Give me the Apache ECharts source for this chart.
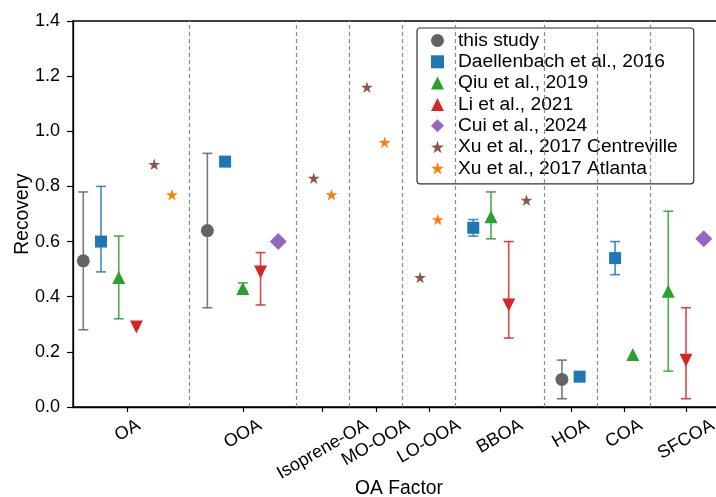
<!DOCTYPE html>
<html>
<head>
<meta charset="utf-8">
<script src="https://cdn.jsdelivr.net/npm/echarts@6/dist/echarts.min.js"></script>
<style>
html, body { margin: 0; padding: 0; background: #fff; }
#main { width: 716px; height: 497px; }
</style>
</head>
<body>
<div id="main"></div>
<script>
var factors = ['OA', 'OOA', 'Isoprene-OA', 'MO-OOA', 'LO-OOA', 'BBOA', 'HOA', 'COA', 'SFCOA'];
var studies = ['this study', 'Daellenbach et al., 2016', 'Qiu et al., 2019', 'Li et al., 2021',
               'Cui et al., 2024', 'Xu et al., 2017 Centreville', 'Xu et al., 2017 Atlanta'];

// recovery per factor (null = not reported)
var thisStudy     = [0.53, 0.64, null, null, null, null, 0.10, null, null];
var daellenbach   = [0.60, 0.89, null, null, null, 0.65, 0.11, 0.54, null];
var qiu           = [0.47, 0.43, null, null, null, 0.69, null, 0.19, 0.42];
var li            = [0.29, 0.49, null, null, null, 0.37, null, null, 0.17];
var cui           = [null, 0.60, null, null, null, null, null, null, 0.61];
var xuCentreville = [0.88, null, 0.83, 1.16, 0.47, 0.75, null, null, null];
var xuAtlanta     = [0.77, null, 0.77, 0.96, 0.68, null, null, null, null];

// error ranges [low, high]
var thisStudyErr   = [[0.28, 0.78], [0.36, 0.92], null, null, null, null, [0.03, 0.17], null, null];
var daellenbachErr = [[0.49, 0.80], null, null, null, null, [0.62, 0.68], null, [0.48, 0.60], null];
var qiuErr         = [[0.32, 0.62], [0.42, 0.45], null, null, null, [0.61, 0.78], null, null, [0.13, 0.71]];
var liErr          = [null, [0.37, 0.56], null, null, null, [0.25, 0.60], null, null, [0.03, 0.36]];

var values = [thisStudy, daellenbach, qiu, li, cui, xuCentreville, xuAtlanta];
var errs = [thisStudyErr, daellenbachErr, qiuErr, liErr, null, null, null];

var colors = ['#636363', '#1f77b4', '#2ca02c', '#d62728', '#9467bd', '#8c564b', '#ff7f0e'];
var star = 'path://M0,-100L22.45,-30.9L95.1,-30.9L36.3,11.8L58.8,80.9L0,38.2L-58.8,80.9L-36.3,11.8L-95.1,-30.9L-22.45,-30.9Z';
var symbols = ['circle', 'rect', 'triangle', 'triangle', 'diamond', star, star];
var sizes = [13, 12, 13, 13, 17, [12, 11.5], [12, 11.5]];
var rotates = [0, 0, 0, 180, 0, 0, 0];

// x positions: one slot per reported study, gap of one slot between factors
var pos = values.map(function () { return []; });
var centers = [];
var separators = [];
var x = 0;
factors.forEach(function (f, j) {
    var first = x;
    values.forEach(function (v, i) {
        if (v[j] != null) { pos[i][j] = x; x += 1; }
    });
    centers.push((first + x - 1) / 2);
    if (j < factors.length - 1) { separators.push(x); x += 1; }
});

var FONT = '"Liberation Sans", Arial, sans-serif';
var tickFont = 18;

// center rotated labels under their tick like matplotlib does
var ctx = document.createElement('canvas').getContext('2d');
ctx.font = tickFont + 'px ' + FONT;
var rich = {};
factors.forEach(function (f, j) {
    var d = 0.25 * ctx.measureText(f).width;
    rich['l' + j] = {
        fontSize: tickFont, fontFamily: FONT, color: '#000',
        padding: [1.732 * d, d, 0, 0]
    };
});

var errData = [];
errs.forEach(function (e, i) {
    if (!e) return;
    e.forEach(function (r, j) {
        if (r) errData.push([pos[i][j], r[0], r[1], i]);
    });
});

var series = [{
    name: 'errors',
    type: 'custom',
    z: 2,
    encode: { x: 0, y: [1, 2] },
    data: errData,
    renderItem: function (params, api) {
        var xv = api.value(0);
        var p0 = api.coord([xv, api.value(1)]);
        var p1 = api.coord([xv, api.value(2)]);
        var st = { stroke: colors[api.value(3)], lineWidth: 1.6, opacity: 0.85 };
        var w = 5;
        return {
            type: 'group',
            children: [
                { type: 'line', shape: { x1: p0[0], y1: p0[1], x2: p1[0], y2: p1[1] }, style: st },
                { type: 'line', shape: { x1: p0[0] - w, y1: p0[1], x2: p0[0] + w, y2: p0[1] }, style: st },
                { type: 'line', shape: { x1: p1[0] - w, y1: p1[1], x2: p1[0] + w, y2: p1[1] }, style: st }
            ]
        };
    },
    markLine: {
        silent: true,
        symbol: ['none', 'none'],
        label: { show: false },
        lineStyle: { color: '#8a8a8a', type: [4, 3], width: 1.2 },
        data: separators.map(function (s) { return { xAxis: s }; })
    }
}];

values.forEach(function (v, i) {
    var data = [];
    v.forEach(function (y, j) {
        if (y != null) data.push([pos[i][j], y]);
    });
    series.push({
        name: studies[i],
        type: 'scatter',
        z: 3,
        symbol: symbols[i],
        symbolSize: sizes[i],
        symbolRotate: rotates[i],
        itemStyle: { color: colors[i], opacity: 1 },
        data: data
    });
});

var option = {
    animation: false,
    textStyle: { fontFamily: FONT },
    grid: {
        show: true,
        left: 73,
        top: 21,
        bottom: 90,
        right: -9,
        outerBoundsMode: 'none',
        containLabel: false,
        borderColor: '#000',
        borderWidth: 1.3
    },
    legend: {
        orient: 'vertical',
        left: 417,
        top: 28,
        padding: [3, 16, 6, 14],
        itemWidth: 13,
        itemHeight: 13,
        itemGap: 2.3,
        backgroundColor: '#fff',
        borderColor: '#333',
        borderWidth: 1.2,
        borderRadius: 3,
        selectedMode: false,
        data: studies,
        textStyle: { fontSize: 19.2, lineHeight: 19, color: '#000', padding: [0, 0, 0, 9], fontFamily: FONT }
    },
    xAxis: {
        type: 'value',
        min: -0.58,
        max: 36.2,
        name: 'OA Factor',
        nameLocation: 'middle',
        nameGap: 72,
        nameMoveOverlap: false,
        nameTextStyle: { fontSize: 19.3, color: '#000' },
        splitLine: { show: false },
        axisLine: { onZero: false, lineStyle: { color: '#000', width: 1.3 } },
        axisTick: { customValues: centers, length: 5, lineStyle: { color: '#000', width: 1.2 } },
        axisLabel: {
            customValues: centers,
            rotate: 30,
            align: 'center',
            verticalAlign: 'middle',
            margin: 17,
            rich: rich,
            formatter: function (val) {
                for (var j = 0; j < centers.length; j++) {
                    if (Math.abs(centers[j] - val) < 1e-6) return '{l' + j + '|' + factors[j] + '}';
                }
                return '';
            }
        }
    },
    yAxis: {
        type: 'value',
        min: 0,
        max: 1.4,
        interval: 0.2,
        name: 'Recovery',
        nameLocation: 'middle',
        nameGap: 41,
        nameMoveOverlap: false,
        nameTextStyle: { fontSize: 19.3, color: '#000' },
        splitLine: { show: false },
        axisLine: { onZero: false, lineStyle: { color: '#000', width: 1.3 } },
        axisTick: { length: 6, lineStyle: { color: '#000', width: 1.2 } },
        axisLabel: {
            fontSize: tickFont,
            color: '#000',
            margin: 13,
            formatter: function (v) { return v.toFixed(1); }
        }
    },
    series: series
};

var myChart = echarts.init(document.getElementById('main'));
myChart.setOption(option);
</script>
</body>
</html>
